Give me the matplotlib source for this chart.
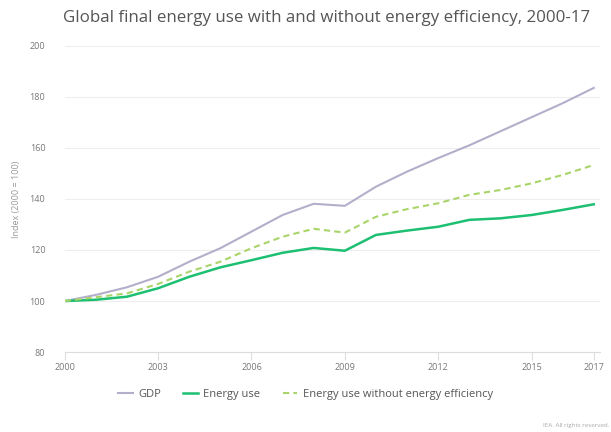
import numpy as np
import matplotlib.pyplot as plt

years = list(range(2000, 2018))
gdp = [100, 102.4, 105.4, 109.5, 115.4, 120.7, 127.2, 133.7, 138.1, 137.3,
       144.8, 150.7, 156, 161, 166.5, 172, 177.5, 183.5]
energy_use = [100, 100.5, 101.7, 105, 109.5, 113.2, 116, 118.9, 120.8, 119.7,
              125.9, 127.6, 129.1, 131.8, 132.4, 133.7, 135.7, 137.9]
energy_no_eff = [100, 101.5, 103, 106.7, 111.5, 115.4, 120.7, 125.2, 128.3, 126.8,
                 133, 136, 138.3, 141.6, 143.5, 146.1, 149.4, 153.3]
xticks = [2000, 2003, 2006, 2009, 2012, 2015, 2017]
yticks = [80, 100, 120, 140, 160, 180, 200]

plt.rcParams['font.family'] = ['Open Sans', 'DejaVu Sans']

fig = plt.figure(figsize=(6.11, 4.32), dpi=100)
ax = fig.add_axes([0.106, 0.185, 0.876, 0.709])

ax.plot(years, gdp, color="#b4aecb", lw=1.5, label="GDP")
ax.plot(years, energy_use, color="#1dbf72", lw=1.8, label="Energy use")
ax.plot(years, energy_no_eff, color="#a9d46a", lw=1.5, ls=(0, (3, 2)),
        label="Energy use without energy efficiency")

ax.set_xlim(2000, 2017.2)
ax.set_ylim(80, 200)
ax.set_xticks(xticks)
ax.set_yticks(yticks)
ax.tick_params(axis="y", length=0, pad=14, labelsize=6.5, labelcolor="#777777")
ax.tick_params(axis="x", length=6, color="#dddddd", pad=2, labelsize=6.5,
               labelcolor="#777777")
ax.grid(axis="y", color="#eeeeee", lw=0.8)
ax.set_axisbelow(True)
for s in ["top", "right", "left"]:
    ax.spines[s].set_visible(False)
ax.spines["bottom"].set_color("#dddddd")
ax.set_ylabel("Index (2000 = 100)", fontsize=6.5, color="#999999", labelpad=6)

fig.text(0.535, 0.958, "Global final energy use with and without energy efficiency, 2000-17",
         ha="center", va="center", fontsize=12.2, color="#555555")

ax.legend(loc="center", bbox_to_anchor=(0.5, 0.086), bbox_transform=fig.transFigure,
          ncol=3, frameon=False, fontsize=8, handlelength=1.3, handletextpad=0.5,
          columnspacing=2.0, labelcolor="#555555")

fig.text(0.998, 0.016, "IEA. All rights reserved.", ha="right", va="center",
         fontsize=4.5, color="#aaaaaa")

fig.savefig("out.png", dpi=100)
